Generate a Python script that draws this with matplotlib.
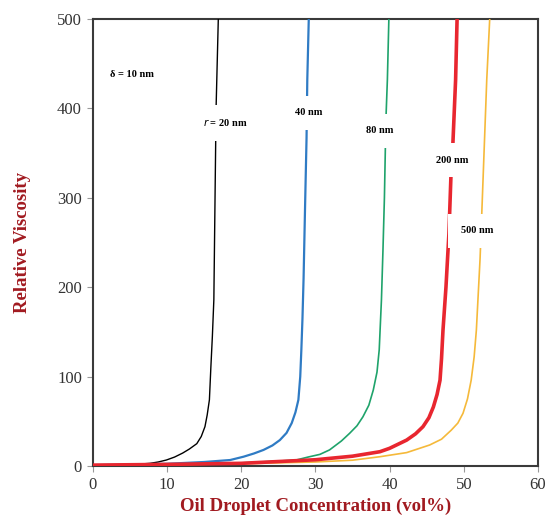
#relative viscosity vs oil droplet concentration for several droplet radii
import matplotlib.pyplot as plt

plt.rcParams['font.family'] = ['Liberation Serif', 'DejaVu Serif']

##############################################################
# values (x = vol%, y = relative viscosity)
r20_x = [0, 4, 6, 7.7, 8.8, 9.9, 11.0, 12.1, 13.0, 14.0, 14.6, 15.1, 15.4, 15.7, 15.9, 16.1, 16.3, 16.6, 16.9]
r20_y = [1, 1.4, 2, 3, 4.5, 6.7, 10, 14.5, 19, 25, 33, 44, 57, 74, 111, 145, 186, 400, 500]

r40_x = [0, 10, 15, 18.5, 20.3, 21.7, 23.0, 24.2, 25.2, 26.1, 26.8, 27.3, 27.7, 27.95, 28.1, 28.25, 28.4, 28.6, 28.8, 28.9, 29.1]
r40_y = [1, 2.5, 4.5, 6.7, 10.4, 14, 18, 23, 29, 37, 48, 60, 74, 100, 130, 165, 210, 290, 367, 432, 500]

r80_x = [0, 10, 20, 25, 27.4, 29.0, 30.6, 31.9, 33.5, 34.6, 35.6, 36.4, 37.2, 37.8, 38.3, 38.6, 38.9, 39.1, 39.3, 39.5, 39.7, 39.9]
r80_y = [1, 1.8, 3.5, 5.5, 6.7, 10, 13, 18, 28, 36.5, 45, 55, 68, 85, 105, 130, 186, 240, 300, 387, 432, 500]

r200_x = [0, 10, 20, 30, 35, 38.7, 40.0, 42.3, 43.5, 44.5, 45.3, 45.9, 46.4, 46.8, 47.0, 47.2, 47.6, 48.0, 48.3, 48.5, 48.9, 49.1]
r200_y = [1, 1.8, 3, 7, 11, 16, 19.8, 29, 36, 44, 54, 66, 80, 96, 120, 152, 200, 260, 331, 354, 432, 500]

r500_x = [0, 10, 20, 30, 35, 38.7, 42.3, 45.4, 47.0, 48.3, 49.2, 49.9, 50.5, 51.0, 51.4, 51.7, 52.2, 52.5, 53.1, 53.5]
r500_y = [1, 1.5, 2.5, 4.5, 6.5, 10.4, 15, 23.5, 30, 40, 48, 59, 75, 96, 122, 152, 232, 298, 432, 500]

x_ticks = [0, 10, 20, 30, 40, 50, 60]
y_ticks = [0, 100, 200, 300, 400, 500]
##############################################################

label_red = '#a11a20'

fig = plt.figure(figsize=(5.45, 5.19), dpi=100)
ax = fig.add_axes([0.1706, 0.1021, 0.8164, 0.8613])

ax.plot(r20_x, r20_y, color='black', linewidth=1.0, zorder=3)
ax.plot(r40_x, r40_y, color='#2f7bc4', linewidth=1.6, zorder=3)
ax.plot(r80_x, r80_y, color='#1fa36b', linewidth=1.2, zorder=3)
ax.plot(r500_x, r500_y, color='#f5b93a', linewidth=1.2, zorder=3)
ax.plot(r200_x, r200_y, color='#e8262f', linewidth=2.6, zorder=4)

# inline labels with white box covering the line
box = dict(facecolor='white', edgecolor='none', pad=9)
lab_kw = dict(fontsize=7.5, fontweight='bold', ha='center', va='center', zorder=5, bbox=box)
ax.text(17.9, 384, r'$\it{r}$ = 20 nm', **lab_kw)
ax.text(29.1, 395, '40 nm', **lab_kw)
ax.text(38.7, 375, '80 nm', **lab_kw)
ax.text(48.45, 342, '200 nm', **lab_kw)
ax.text(51.8, 263, '500 nm', **lab_kw)
ax.text(2.3, 438, 'δ = 10 nm', fontsize=7.5, fontweight='bold', ha='left', va='center')

ax.set_xlim(0, 60)
ax.set_ylim(0, 500)
ax.set_xticks(x_ticks)
ax.set_yticks(y_ticks)
ax.tick_params(axis='both', direction='out', length=4, width=0.8, color='#999999',
               labelsize=12, labelcolor='#333333', pad=4)

for s in ax.spines.values():
    s.set_color('#3a3a3a')
    s.set_linewidth(1.5)

ax.set_xlabel('Oil Droplet Concentration (vol%)', fontsize=13.5, fontweight='bold',
              color=label_red, labelpad=3)
ax.set_ylabel('Relative Viscosity', fontsize=13.5, fontweight='bold',
              color=label_red, labelpad=19)

plt.savefig('out.png', dpi=100)
